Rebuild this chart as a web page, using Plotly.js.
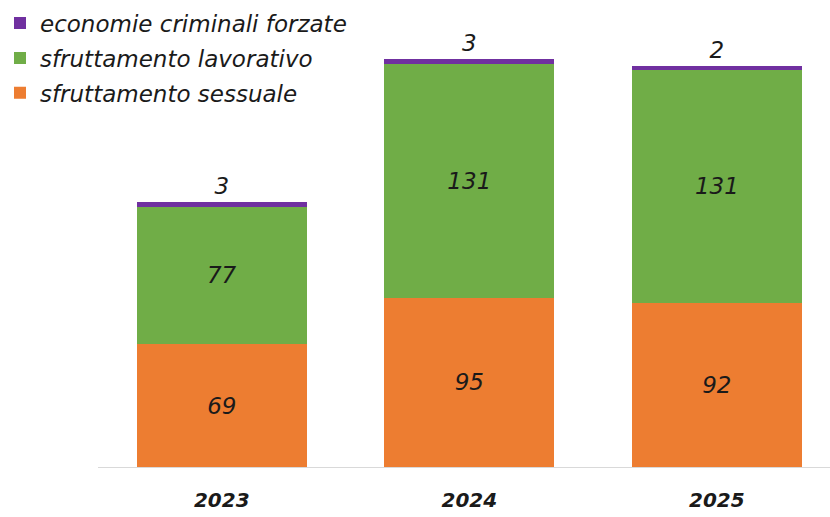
<!DOCTYPE html>
<html>
<head>
<meta charset="utf-8">
<script src="https://cdn.plot.ly/plotly-3.0.1.min.js"></script>
<style>html,body{margin:0;padding:0;background:#fff}#chart{width:830px;height:517px}</style>
</head>
<body>
<div id="chart"></div>
<script>
const years = ['2023', '2024', '2025'];
const sessuale = [69, 95, 92];
const lavorativo = [77, 131, 131];
const criminali = [3, 3, 2];
const names = ['sfruttamento sessuale', 'sfruttamento lavorativo', 'economie criminali forzate'];
const colors = ['#ED7D31', '#70AD47', '#7030A0'];
const ranks = [3, 2, 1];

const font = 'DejaVu Sans, Verdana, sans-serif';
const labelFont = {family: font, size: 23, color: '#1a1a1a', style: 'italic'};

function tr(vals, i, pos) {
  return {
    type: 'bar', x: years, y: vals, name: names[i],
    marker: {color: colors[i], line: {width: 0}},
    text: vals.map(String), texttemplate: '<i>%{text}</i>',
    textposition: pos, insidetextanchor: 'middle',
    textfont: labelFont, outsidetextfont: labelFont, insidetextfont: labelFont,
    constraintext: 'none', cliponaxis: false,
    legendgroup: 'g' + i, legendrank: ranks[i], hoverinfo: 'skip'
  };
}

const data = [tr(sessuale, 0, 'inside'), tr(lavorativo, 1, 'inside'), tr(criminali, 2, 'outside')];

const layout = {
  width: 830, height: 517,
  margin: {l: 98, r: 0, t: 10, b: 50, autoexpand: false},
  paper_bgcolor: '#fff', plot_bgcolor: '#fff',
  barmode: 'stack', bargap: 0.313,
  showlegend: true,
  legend: {
    xref: 'container', yref: 'container',
    x: 0, y: 0.997, xanchor: 'left', yanchor: 'top',
    traceorder: 'grouped', tracegroupgap: 2,
    font: {family: font, size: 23, color: '#1a1a1a', style: 'italic'},
    bgcolor: 'rgba(0,0,0,0)', itemclick: false
  },
  xaxis: {
    type: 'category', range: [-0.5, 2.457],
    showline: true, linecolor: '#d9d9d9', linewidth: 1,
    showgrid: false, ticks: '', zeroline: false,
    tickfont: {family: font, size: 20, color: '#1a1a1a', weight: 'bold', style: 'italic'},
    ticklabelstandoff: 15
  },
  yaxis: {range: [0, 256.5], visible: false, showgrid: false, zeroline: false},
  font: {family: font}
};

Plotly.newPlot('chart', data, layout, {displayModeBar: false, staticPlot: true});
</script>
</body>
</html>
